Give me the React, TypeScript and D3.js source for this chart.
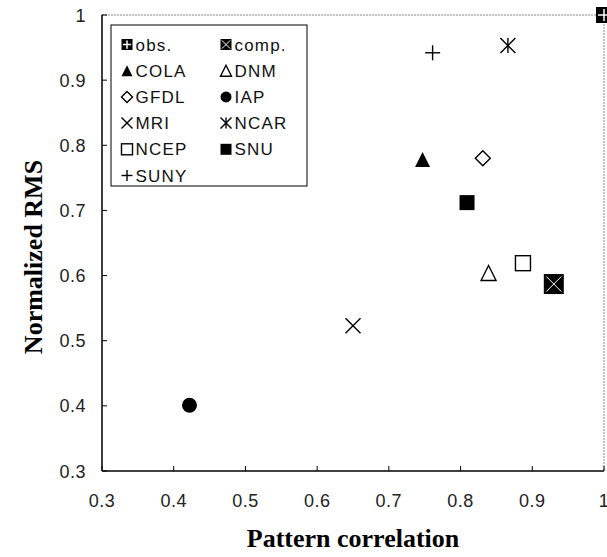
import React from "react";
import * as d3 from "d3";

const models = ["obs.", "comp.", "COLA", "DNM", "GFDL", "IAP", "MRI", "NCAR", "NCEP", "SNU", "SUNY"];
const patternCorr = [1.0, 0.93, 0.747, 0.839, 0.831, 0.422, 0.65, 0.866, 0.887, 0.809, 0.761];
const normRMS = [1.0, 0.587, 0.778, 0.604, 0.78, 0.401, 0.523, 0.953, 0.619, 0.712, 0.942];
const xTicks = [0.3, 0.4, 0.5, 0.6, 0.7, 0.8, 0.9, 1];
const yTicks = [0.3, 0.4, 0.5, 0.6, 0.7, 0.8, 0.9, 1];
const xTitle = "Pattern correlation";
const yTitle = "Normalized RMS";

const markerType: Record<string, string> = {
  "obs.": "obs",
  "comp.": "comp",
  COLA: "triFill",
  DNM: "triOpen",
  GFDL: "diamond",
  IAP: "circle",
  MRI: "cross",
  NCAR: "star",
  NCEP: "squareOpen",
  SNU: "squareFill",
  SUNY: "plus",
};

const W = 607;
const H = 557;
const L = 102, R = 604, T = 15, B = 471;

function Marker({ type, cx, cy, s }: { type: string; cx: number; cy: number; s: number }) {
  const h = s / 2;
  const sw = 1.4;
  switch (type) {
    case "obs":
      return (
        <g>
          <rect x={cx - h} y={cy - h} width={s} height={s} fill="#000" />
          <line x1={cx - h * 0.75} x2={cx + h * 0.75} y1={cy} y2={cy} stroke="#fff" strokeWidth={1.5} />
          <line x1={cx} x2={cx} y1={cy - h * 0.75} y2={cy + h * 0.75} stroke="#fff" strokeWidth={1.5} />
        </g>
      );
    case "comp":
      return (
        <g>
          <rect x={cx - h} y={cy - h} width={s} height={s} fill="#000" />
          <line x1={cx - h * 0.75} x2={cx + h * 0.75} y1={cy - h * 0.75} y2={cy + h * 0.75} stroke="#fff" strokeWidth={1} />
          <line x1={cx - h * 0.75} x2={cx + h * 0.75} y1={cy + h * 0.75} y2={cy - h * 0.75} stroke="#fff" strokeWidth={1} />
        </g>
      );
    case "triFill":
    case "triOpen": {
      const p = `${cx},${cy - h} ${cx + h},${cy + h} ${cx - h},${cy + h}`;
      return type === "triFill" ? (
        <polygon points={p} fill="#000" />
      ) : (
        <polygon points={p} fill="#fff" stroke="#000" strokeWidth={sw} />
      );
    }
    case "diamond":
      return (
        <polygon
          points={`${cx},${cy - h} ${cx + h},${cy} ${cx},${cy + h} ${cx - h},${cy}`}
          fill="#fff"
          stroke="#000"
          strokeWidth={sw}
        />
      );
    case "circle":
      return <circle cx={cx} cy={cy} r={h} fill="#000" />;
    case "cross":
      return (
        <g stroke="#000" strokeWidth={sw}>
          <line x1={cx - h} x2={cx + h} y1={cy - h} y2={cy + h} />
          <line x1={cx - h} x2={cx + h} y1={cy + h} y2={cy - h} />
        </g>
      );
    case "star":
      return (
        <g stroke="#000" strokeWidth={sw}>
          <line x1={cx - h} x2={cx + h} y1={cy - h} y2={cy + h} />
          <line x1={cx - h} x2={cx + h} y1={cy + h} y2={cy - h} />
          <line x1={cx} x2={cx} y1={cy - h} y2={cy + h} />
        </g>
      );
    case "squareOpen":
      return <rect x={cx - h} y={cy - h} width={s} height={s} fill="#fff" stroke="#000" strokeWidth={sw} />;
    case "squareFill":
      return <rect x={cx - h} y={cy - h} width={s} height={s} fill="#000" />;
    case "plus":
      return (
        <g stroke="#000" strokeWidth={sw}>
          <line x1={cx - h} x2={cx + h} y1={cy} y2={cy} />
          <line x1={cx} x2={cx} y1={cy - h} y2={cy + h} />
        </g>
      );
    default:
      return null;
  }
}

export default function App() {
  const x = d3.scaleLinear().domain([0.3, 1]).range([L, R]);
  const y = d3.scaleLinear().domain([0.3, 1]).range([B, T]);
  const sans = "'Liberation Sans', Arial, sans-serif";
  const serif = "'Liberation Serif', 'Times New Roman', serif";

  const legX = [127, 226];
  const legY0 = 44.5;
  const legDy = 26.2;

  return (
    <svg width={W} height={H} style={{ position: "absolute", left: 0, top: 0, background: "#fff" }}>
      <rect x={0} y={0} width={W} height={H} fill="#fff" />
      {/* frame */}
      <line x1={L} x2={R} y1={T} y2={T} stroke="#888" strokeWidth={1} strokeDasharray="2,1" />
      <line x1={R} x2={R} y1={T} y2={B} stroke="#888" strokeWidth={1} strokeDasharray="2,1" />
      <line x1={L} x2={L} y1={T} y2={B} stroke="#000" strokeWidth={1.5} />
      <line x1={L} x2={R} y1={B} y2={B} stroke="#000" strokeWidth={1.5} />
      {/* y ticks */}
      {yTicks.map((t) => (
        <g key={"y" + t}>
          <line x1={L} x2={L + 5} y1={y(t)} y2={y(t)} stroke="#000" strokeWidth={1} />
          <text x={86} y={y(t) + 6.5} textAnchor="end" fontFamily={sans} fontSize={18} letterSpacing={0.5} fill="#222">
            {d3.format("")(t)}
          </text>
        </g>
      ))}
      {/* x ticks */}
      {xTicks.map((t) => (
        <g key={"x" + t}>
          <line x1={x(t)} x2={x(t)} y1={B} y2={B - 5} stroke="#000" strokeWidth={1} />
          <text x={x(t)} y={507} textAnchor="middle" fontFamily={sans} fontSize={18} letterSpacing={0.5} fill="#222">
            {d3.format("")(t)}
          </text>
        </g>
      ))}
      {/* titles */}
      <text x={(L + R) / 2} y={547} textAnchor="middle" fontFamily={serif} fontWeight="bold" fontSize={26} fill="#000">
        {xTitle}
      </text>
      <text
        transform={`translate(42, 257) rotate(-90)`}
        textAnchor="middle"
        fontFamily={serif}
        fontWeight="bold"
        fontSize={26}
        fill="#000"
      >
        {yTitle}
      </text>
      {/* legend */}
      <rect x={111} y={25} width={196} height={161} fill="#fff" stroke="#000" strokeWidth={1} />
      {models.map((m, i) => {
        const col = i % 2;
        const row = Math.floor(i / 2);
        const cx = legX[col];
        const cy = legY0 + row * legDy;
        return (
          <g key={"leg" + m}>
            <Marker type={markerType[m]} cx={cx} cy={cy} s={11} />
            <text x={cx + 8.5} y={cy + 6} fontFamily={sans} fontSize={17} letterSpacing={1.2} fill="#111">
              {m}
            </text>
          </g>
        );
      })}
      {/* points */}
      {models.map((m, i) => (
        <Marker
          key={"pt" + m}
          type={markerType[m]}
          cx={x(patternCorr[i])}
          cy={y(normRMS[i])}
          s={m === "comp." ? 20 : m === "obs." ? 16 : 15}
        />
      ))}
    </svg>
  );
}
